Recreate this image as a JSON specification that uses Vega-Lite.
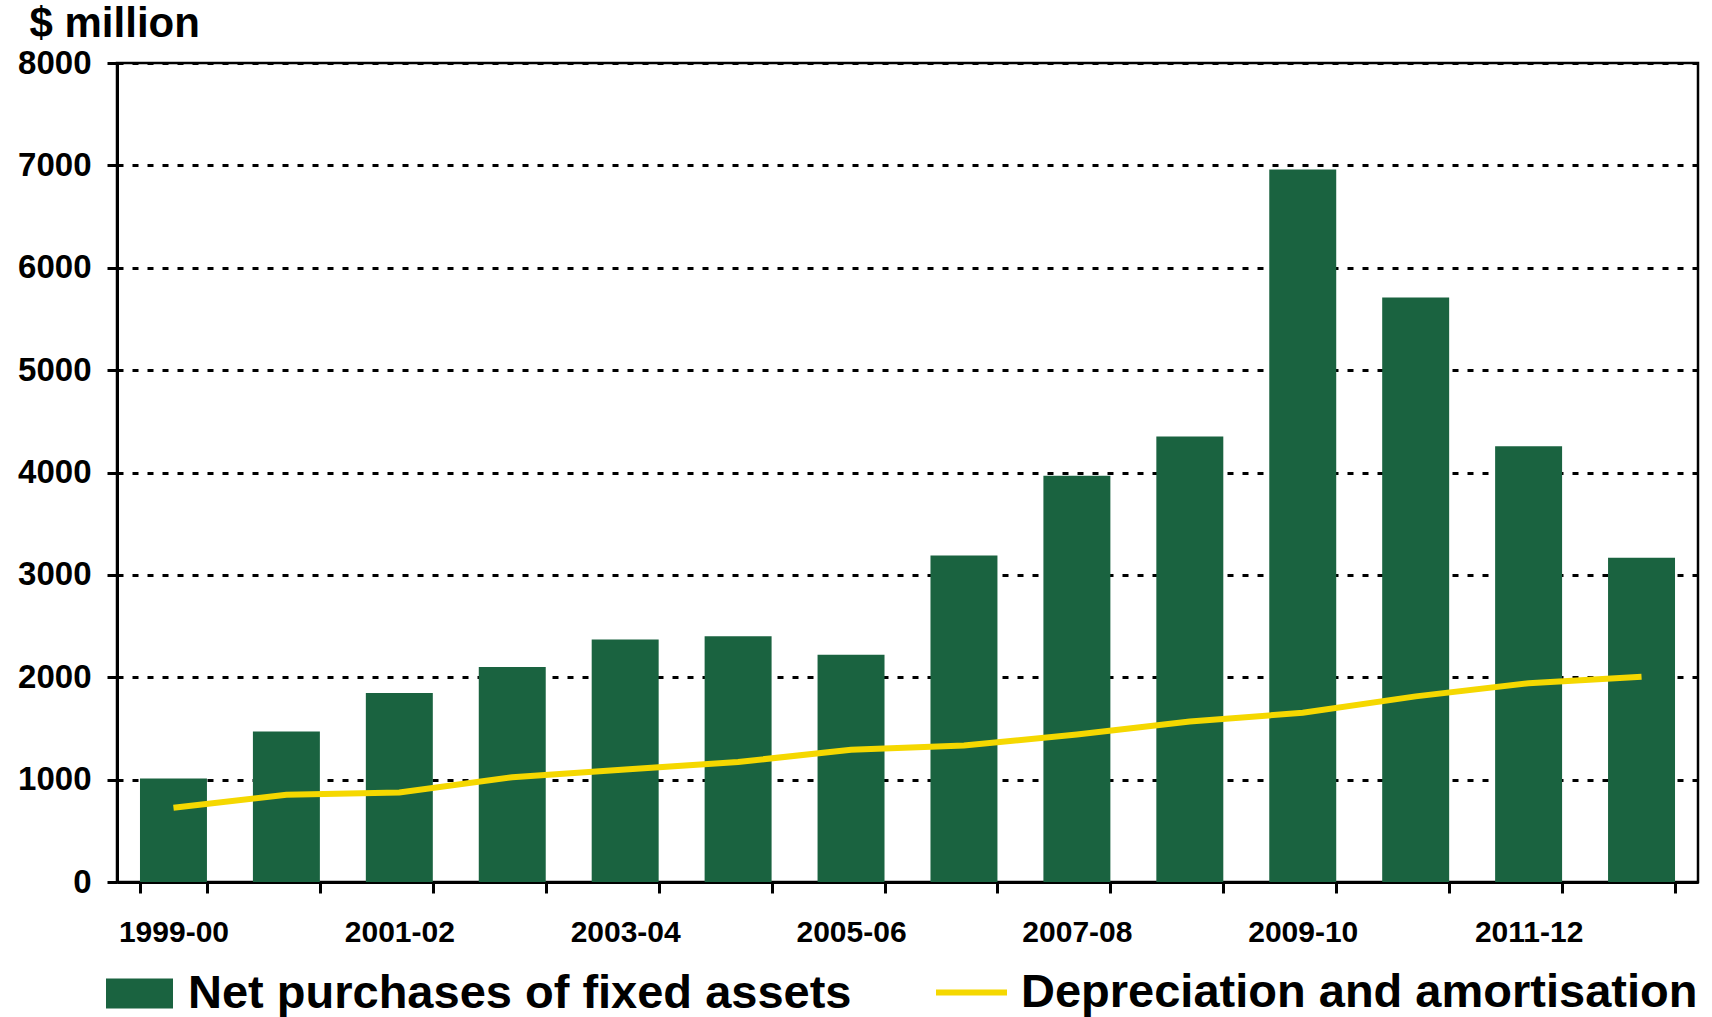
{
  "$schema": "https://vega.github.io/schema/vega-lite/v6.json",
  "autosize": "none",
  "width": 1581,
  "height": 819,
  "padding": {"left": 117, "top": 63, "right": 14, "bottom": 135},
  "background": "white",
  "config": {
    "font": "Liberation Sans",
    "view": {"stroke": "black", "strokeWidth": 2.5},
    "axis": {"labelFont": "Liberation Sans", "labelFontWeight": "bold", "labelColor": "black", "titleFont": "Liberation Sans", "titleFontWeight": "bold", "titleColor": "black", "domainColor": "black", "tickColor": "black"},
    "legend": {"labelFont": "Liberation Sans", "labelFontWeight": "bold", "labelColor": "black", "padding": 0}
  },
  "data": {
    "values": [
      {"year": "1999-00", "net": 1010, "dep": 725},
      {"year": "2000-01", "net": 1470, "dep": 853},
      {"year": "2001-02", "net": 1845, "dep": 875},
      {"year": "2002-03", "net": 2100, "dep": 1024},
      {"year": "2003-04", "net": 2368, "dep": 1099},
      {"year": "2004-05", "net": 2400, "dep": 1173},
      {"year": "2005-06", "net": 2219, "dep": 1291},
      {"year": "2006-07", "net": 3189, "dep": 1333},
      {"year": "2007-08", "net": 3968, "dep": 1440},
      {"year": "2008-09", "net": 4352, "dep": 1568},
      {"year": "2009-10", "net": 6960, "dep": 1653},
      {"year": "2010-11", "net": 5710, "dep": 1813},
      {"year": "2011-12", "net": 4256, "dep": 1941},
      {"year": "2012-13", "net": 3168, "dep": 2005}
    ]
  },
  "encoding": {
    "x": {
      "field": "year",
      "type": "ordinal",
      "sort": null,
      "scale": {"paddingInner": 0.407, "paddingOuter": 0.2035},
      "axis": {
        "title": null,
        "labelAngle": 0,
        "labelFontSize": 30,
        "labelPadding": 24,
        "labelOverlap": false,
        "labelExpr": "indexof(['1999-00','2001-02','2003-04','2005-06','2007-08','2009-10','2011-12'], datum.value) >= 0 ? datum.label : ''",
        "tickBand": "extent",
        "tickSize": 11,
        "tickWidth": 3,
        "domainWidth": 3,
        "grid": false
      }
    }
  },
  "layer": [
    {
      "mark": {"type": "bar"},
      "encoding": {
        "y": {
          "field": "net",
          "type": "quantitative",
          "scale": {"domain": [0, 8000], "nice": false},
          "axis": {
            "title": "$ million",
            "titleAngle": 0,
            "titleFontSize": 42,
            "titleAlign": "left",
            "titleBaseline": "alphabetic",
            "titleX": -88,
            "titleY": -27,
            "values": [0, 1000, 2000, 3000, 4000, 5000, 6000, 7000, 8000],
            "format": "d",
            "labelFontSize": 33,
            "labelPadding": 16,
            "tickSize": 10,
            "tickWidth": 3,
            "domainWidth": 3,
            "grid": true,
            "gridColor": "black",
            "gridWidth": 3,
            "gridDash": [6, 9]
          }
        },
        "color": {
          "datum": "Net purchases of fixed assets",
          "type": "nominal",
          "scale": {"range": ["#1A6340"]},
          "legend": {
            "title": null,
            "orient": "none",
            "legendX": -11,
            "legendY": 897,
            "direction": "horizontal",
            "symbolType": "M-1,-0.45H1V0.45H-1Z",
            "symbolSize": 4489,
            "symbolStrokeWidth": 0,
            "symbolOpacity": 1,
            "labelFontSize": 47,
            "labelOffset": 15,
            "labelLimit": 900
          }
        }
      }
    },
    {
      "mark": {"type": "line", "strokeWidth": 6},
      "encoding": {
        "y": {"field": "dep", "type": "quantitative"},
        "stroke": {
          "datum": "Depreciation and amortisation",
          "type": "nominal",
          "scale": {"range": ["#F5D800"]},
          "legend": {
            "title": null,
            "orient": "none",
            "legendX": 816,
            "legendY": 891,
            "direction": "horizontal",
            "symbolType": "stroke",
            "symbolSize": 5041,
            "symbolStrokeWidth": 6,
            "labelFontSize": 47,
            "labelOffset": 11,
            "labelLimit": 900
          }
        }
      }
    }
  ]
}
